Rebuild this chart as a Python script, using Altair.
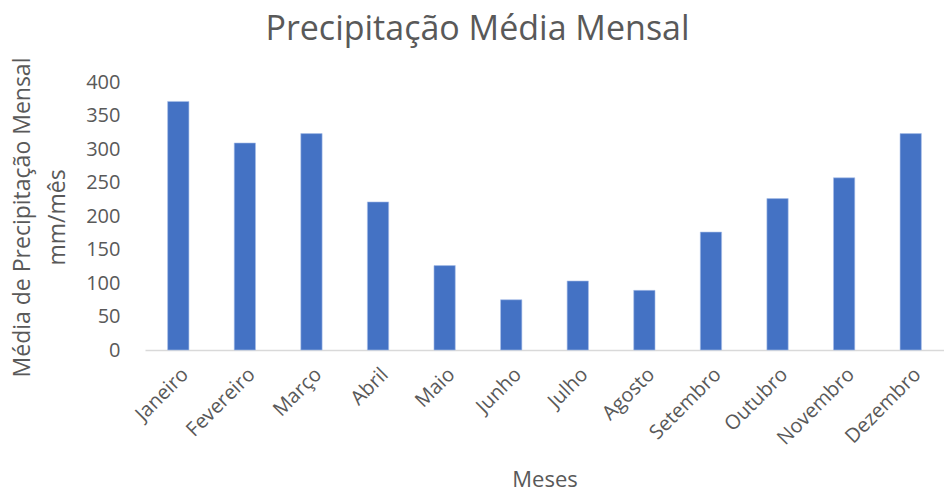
import altair as alt
import pandas as pd

meses = ["Janeiro", "Fevereiro", "Março", "Abril", "Maio", "Junho", "Julho",
         "Agosto", "Setembro", "Outubro", "Novembro", "Dezembro"]
precip = [371, 309, 323, 221, 126, 75, 103, 89, 176, 226, 257, 323]

df = pd.DataFrame({"Mês": meses, "Precipitação": precip})

font = "Open Sans"
gray = "#595959"

chart = alt.Chart(df).mark_bar(color="#4472C4", stroke="#a9c0ea", strokeWidth=0.6).encode(
    x=alt.X("Mês:N", sort=meses,
            scale=alt.Scale(paddingInner=0.68, paddingOuter=0.34),
            axis=alt.Axis(title="Meses", labelAngle=-45, labelAlign="right",
                          labelBaseline="top", labelFontSize=20, labelColor=gray,
                          labelFont=font, labelPadding=14, ticks=False,
                          labelOverlap=False,
                          domainColor="#d9d9d9", domainWidth=1.5,
                          titleFontSize=22, titleFont=font, titleColor=gray,
                          titleFontWeight="normal", titlePadding=21)),
    y=alt.Y("Precipitação:Q",
            scale=alt.Scale(domain=[0, 400], nice=False),
            axis=alt.Axis(title=["Média de Precipitação Mensal", "mm/mês"],
                          values=[0, 50, 100, 150, 200, 250, 300, 350, 400],
                          grid=False, domain=False, ticks=False,
                          labelFontSize=20, labelColor=gray, labelFont=font,
                          labelPadding=25,
                          titleFontSize=23, titleFont=font, titleColor=gray,
                          titleFontWeight="normal", titleLineHeight=35,
                          titleAngle=-90, titleAlign="center", titleBaseline="top",
                          titleX=-134, titleY=135)),
).properties(
    width=799, height=268,
    title=alt.TitleParams("Precipitação Média Mensal", fontSize=34, font=font,
                          color=gray, fontWeight="normal", anchor="middle",
                          dx=-67, offset=10),
    padding={"left": 145, "top": 82, "right": 0, "bottom": 145},
    autosize=alt.AutoSizeParams(type="none"),
).configure_view(stroke=None)

chart.save("out.html", embed_options={"renderer": "svg", "actions": False})
